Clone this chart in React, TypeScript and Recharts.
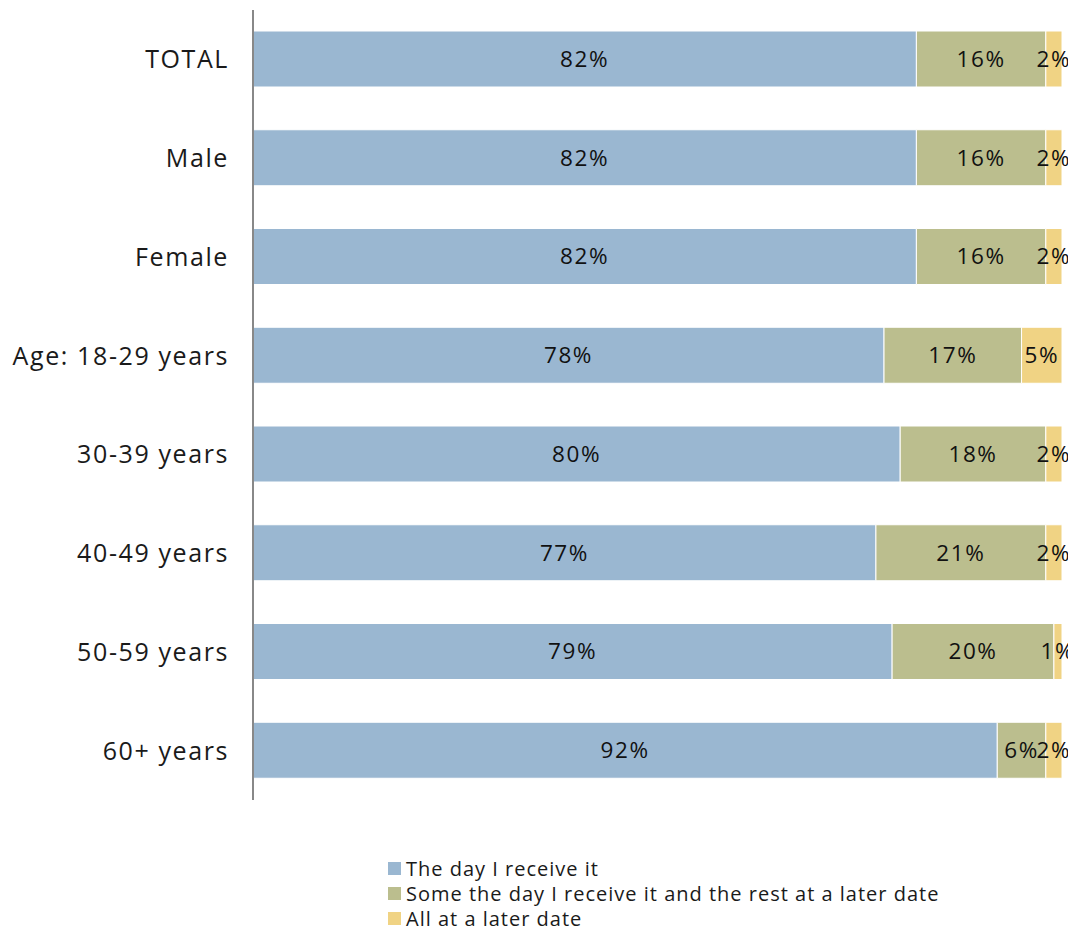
import { Bar, BarChart, LabelList, XAxis, YAxis } from 'recharts';

const categories = [
  'TOTAL',
  'Male',
  'Female',
  'Age: 18-29 years',
  '30-39 years',
  '40-49 years',
  '50-59 years',
  '60+ years',
];
const dayReceived = [82, 82, 82, 78, 80, 77, 79, 92];
const someLater = [16, 16, 16, 17, 18, 21, 20, 6];
const allLater = [2, 2, 2, 5, 2, 2, 1, 2];

const seriesNames = [
  'The day I receive it',
  'Some the day I receive it and the rest at a later date',
  'All at a later date',
];
const colors = ['#9AB7D1', '#BBBE8E', '#F0D384'];

const FONT = '"Open Sans", "Noto Sans", sans-serif';

const data = categories.map((c, i) => ({
  name: c,
  day: dayReceived[i],
  some: someLater[i],
  all: allLater[i],
}));

const fmt = (v: any) => `${v}%`;

export default function App() {
  // body keeps its 8px margin; the chart is shifted back to the page corner
  return (
    <div style={{ position: 'relative', width: 1060, height: 925 }}>
      <div style={{ position: 'absolute', left: -8, top: -8, width: 1076, height: 941, background: '#fff' }}>
        <BarChart
          width={1076}
          height={941}
          data={data}
          layout="vertical"
          barSize={56}
          margin={{ top: 10, right: 14, left: 0, bottom: 141 }}
        >
          <XAxis type="number" domain={[0, 100]} hide />
          <YAxis
            type="category"
            dataKey="name"
            width={253}
            axisLine={{ stroke: '#888', strokeWidth: 2 }}
            tickLine={false}
            tickMargin={18}
            tick={{ fontSize: 25, fill: '#1a1a1a', fontFamily: FONT, letterSpacing: 1.6 }}
          />
          {(['day', 'some', 'all'] as const).map((k, i) => (
            <Bar
              key={k}
              dataKey={k}
              name={seriesNames[i]}
              stackId="a"
              fill={colors[i]}
              stroke="#fff"
              strokeWidth={1}
              isAnimationActive={false}
            >
              <LabelList
                dataKey={k}
                position="center"
                formatter={fmt}
                style={{ fontSize: 22.5, fill: '#111', fontFamily: FONT, letterSpacing: 1.6 }}
              />
            </Bar>
          ))}
        </BarChart>
        <div
          style={{
            position: 'absolute',
            left: 388,
            top: 856,
            fontFamily: FONT,
            fontSize: 20,
            letterSpacing: 1,
            color: '#1a1a1a',
          }}
        >
          {seriesNames.map((n, i) => (
            <div key={n} style={{ display: 'flex', alignItems: 'center', height: 25, whiteSpace: 'nowrap' }}>
              <span
                style={{
                  display: 'inline-block',
                  width: 13,
                  height: 13,
                  background: colors[i],
                  marginRight: 5,
                }}
              />
              {n}
            </div>
          ))}
        </div>
      </div>
    </div>
  );
}
